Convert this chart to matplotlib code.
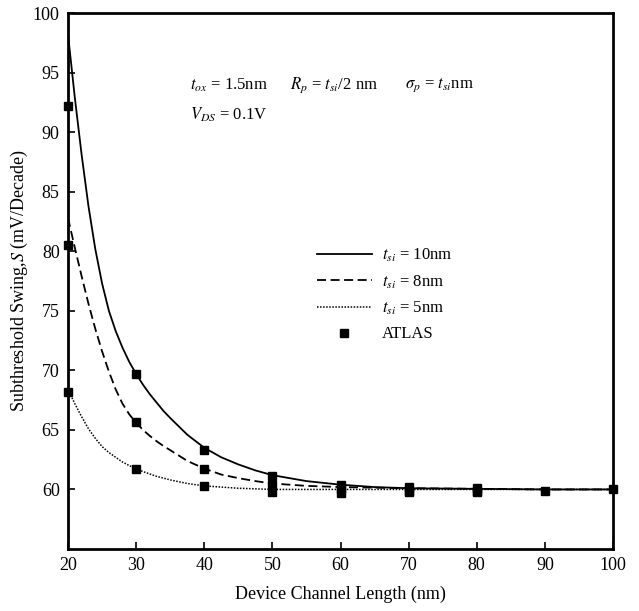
import matplotlib
matplotlib.use("Agg")
import matplotlib.pyplot as plt
from matplotlib.lines import Line2D

plt.rcParams['font.family'] = ['Liberation Serif', 'DejaVu Serif']
plt.rcParams['mathtext.fontset'] = 'stix'

# Model curves
L_curve = [20, 21, 22, 23, 24, 25, 26, 27, 28, 29, 30, 31, 32, 33, 34, 35, 37.5, 40, 42.5, 45, 47.5, 50,
           55, 60, 65, 70, 80, 90, 100]
S_tsi10 = [98.2, 92.9, 88.1, 83.8, 80.2, 77.3, 75.0, 73.3, 71.9, 70.7, 69.7, 68.8, 68.0, 67.3, 66.6, 66.0,
           64.6, 63.5, 62.7, 62.1, 61.6, 61.2, 60.7, 60.4, 60.2, 60.1, 60.05, 60.0, 60.0]
S_tsi8 = [82.8, 80.3, 77.9, 75.6, 73.5, 71.6, 69.9, 68.4, 67.2, 66.3, 65.6, 65.0, 64.5, 64.05, 63.65, 63.3,
          62.4, 61.75, 61.25, 60.95, 60.7, 60.5, 60.3, 60.2, 60.15, 60.1, 60.05, 60.0, 60.0]
S_tsi5 = [68.4, 67.2, 66.1, 65.1, 64.3, 63.6, 63.1, 62.7, 62.3, 62.0, 61.75, 61.5, 61.3, 61.1, 60.95, 60.8,
          60.5, 60.3, 60.2, 60.1, 60.05, 60.0, 60.0, 60.0, 60.0, 60.0, 60.0, 60.0, 60.0]

# ATLAS simulation points
L_atlas10 = [20, 30, 40, 50, 60, 70, 80, 90, 100]
S_atlas10 = [92.2, 69.7, 63.3, 61.1, 60.4, 60.2, 60.1, 59.9, 60.0]
L_atlas8 = [20, 30, 40, 50, 60, 70, 80]
S_atlas8 = [80.5, 65.7, 61.7, 60.4, 60.0, 59.9, 59.9]
L_atlas5 = [20, 30, 40, 50, 60, 70, 80]
S_atlas5 = [68.2, 61.7, 60.3, 59.8, 59.7, 59.8, 59.8]

x_ticks = [20, 30, 40, 50, 60, 70, 80, 90, 100]
y_ticks = [60, 65, 70, 75, 80, 85, 90, 95, 100]

fig = plt.figure(figsize=(6.39, 6.11), dpi=100)
ax = fig.add_axes([68/639, 1-549/611, (613-68)/639, (549-13)/611])

ax.plot(L_curve, S_tsi10, color='black', lw=1.3, ls='-')
ax.plot(L_curve, S_tsi8, color='black', lw=1.3, ls=(0, (5, 2.5)))
ax.plot(L_curve, S_tsi5, color='black', lw=1.1, ls=(0, (1, 1)))

for Lx, Sy in [(L_atlas10, S_atlas10), (L_atlas8, S_atlas8), (L_atlas5, S_atlas5)]:
    ax.plot(Lx, Sy, ls='none', marker='s', ms=6, color='black', clip_on=False)

ax.set_xlim(20, 100)
ax.set_ylim(55, 100)
ax.set_xticks(x_ticks)
ax.set_yticks(y_ticks)
ax.tick_params(direction='in', length=5, width=1.2, labelsize=13, pad=6)
for s in ax.spines.values():
    s.set_linewidth(2)

ax.set_xlabel('Device Channel Length (nm)', fontsize=13, labelpad=8)
ax.set_ylabel('Subthreshold Swing,$S$ (mV/Decade)', fontsize=13, labelpad=2)

ax.text(190/639, 1-85/611, r'$t_{ox}$ = 1.5nm', transform=fig.transFigure, fontsize=12, va='center')
ax.text(290/639, 1-85/611, r'$R_p$ = $t_{si}$/2 nm', transform=fig.transFigure, fontsize=12, va='center')
ax.text(405/639, 1-85/611, r'$\sigma_p$ = $t_{si}$nm', transform=fig.transFigure, fontsize=12, va='center')
ax.text(190/639, 1-115/611, r'$V_{DS}$ = 0.1V', transform=fig.transFigure, fontsize=12, va='center')

handles = [Line2D([], [], color='black', lw=1.3, ls='-'),
           Line2D([], [], color='black', lw=1.3, ls=(0, (5, 2.5))),
           Line2D([], [], color='black', lw=1.1, ls=(0, (1, 1))),
           Line2D([], [], ls='none', marker='s', ms=6, color='black')]
labels = [r'$t_{si}$ = 10nm', r'$t_{si}$ = 8nm', r'$t_{si}$ = 5nm', 'ATLAS']
ax.legend(handles, labels, loc='upper left', bbox_to_anchor=(310/639, 1-240/611),
          bbox_transform=fig.transFigure, frameon=False, fontsize=12,
          handlelength=3.3, handletextpad=0.6, labelspacing=0.55, borderaxespad=0)

fig.savefig('out.png', dpi=100)
